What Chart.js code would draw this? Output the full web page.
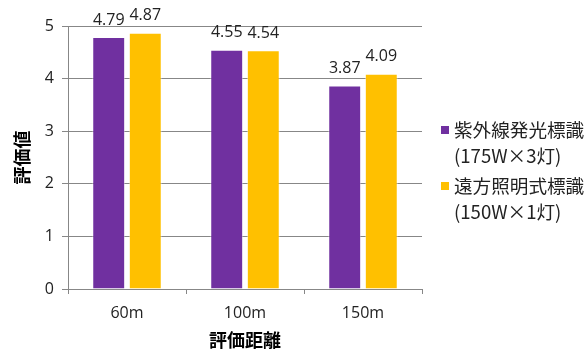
<!DOCTYPE html>
<html lang="ja">
<head>
<meta charset="utf-8">
<script src="https://cdn.jsdelivr.net/npm/chart.js@4.4.1/dist/chart.umd.min.js"></script>
<style>
  html, body { margin: 0; padding: 0; background: #fff; }
  #wrap { position: relative; width: 586px; height: 351px; }
  #legend {
    position: absolute; left: 441px; top: 116px;
    font-family: "Noto Sans CJK JP", sans-serif; font-size: 18.6px; color: #222;
  }
  .item { display: flex; margin-bottom: 4px; }
  .box { width: 8px; height: 8px; margin: 10px 5px 0 0; flex: none; }
  .txt { line-height: 26px; white-space: nowrap; }
</style>
</head>
<body>
<div id="wrap">
  <canvas id="chart" width="586" height="351"></canvas>
  <div id="legend"></div>
</div>
<script>
// 評価距離ごとの評価値
const distances = ['60m', '100m', '150m'];
const seriesNames = [['紫外線発光標識', '(175W×3灯)'], ['遠方照明式標識', '(150W×1灯)']];
const uvValues = [4.79, 4.55, 3.87];
const farValues = [4.87, 4.54, 4.09];
const seriesColors = ['#7030A0', '#FFC000'];
const yTicks = [0, 1, 2, 3, 4, 5];

const gridGray = '#878787';
const baseFont = '"Open Sans", "Noto Sans CJK JP", sans-serif';

// 棒の上に値を描く
const valueLabels = {
    id: 'valueLabels',
    afterDatasetsDraw(chart) {
        const ctx = chart.ctx;
        ctx.save();
        ctx.font = '16px ' + baseFont;
        ctx.fillStyle = '#222';
        ctx.textAlign = 'center';
        ctx.textBaseline = 'bottom';
        chart.data.datasets.forEach((ds, i) => {
            chart.getDatasetMeta(i).data.forEach((bar, j) => {
                ctx.fillText(ds.data[j].toFixed(2), bar.x, bar.y - 9);
            });
        });
        ctx.restore();
    }
};

const ctx = document.getElementById('chart').getContext('2d');
const chart = new Chart(ctx, {
    type: 'bar',
    data: {
        labels: distances,
        datasets: [
            { label: seriesNames[0].join(''), data: uvValues, backgroundColor: seriesColors[0] },
            { label: seriesNames[1].join(''), data: farValues, backgroundColor: seriesColors[1] }
        ]
    },
    options: {
        responsive: false,
        animation: false,
        layout: { padding: { top: 26, right: 164, left: 0, bottom: 0 } },
        datasets: {
            bar: {
                categoryPercentage: 0.62,
                barPercentage: 0.9,
                borderWidth: 1,
                borderColor: 'rgba(255,255,255,0.45)'
            }
        },
        plugins: {
            legend: { display: false },
            tooltip: { enabled: false }
        },
        scales: {
            x: {
                afterFit: s => { s.height = 62; },
                grid: { drawOnChartArea: false, drawTicks: true, tickLength: 5, color: gridGray },
                border: { display: true, color: gridGray },
                ticks: { color: '#222', font: { family: baseFont, size: 16 }, padding: 10 },
                title: {
                    display: true, text: '評価距離', color: '#000',
                    font: { family: '"Noto Sans CJK JP", sans-serif', size: 18, weight: 'bold' },
                    padding: { top: 0, bottom: 0 }
                }
            },
            y: {
                min: 0, max: 5,
                afterFit: s => { s.width = 68; },
                afterBuildTicks: s => { s.ticks = yTicks.map(v => ({ value: v })); },
                grid: { color: gridGray, tickLength: 6 },
                border: { display: true, color: gridGray },
                ticks: { color: '#222', font: { family: baseFont, size: 16 }, padding: 8 },
                title: {
                    display: true, text: '評価値', color: '#000',
                    font: { family: '"Noto Sans CJK JP", sans-serif', size: 18, weight: 'bold' },
                    padding: { top: 11, bottom: 0 }
                }
            }
        }
    },
    plugins: [valueLabels]
});

// 凡例
const legend = document.getElementById('legend');
seriesNames.forEach((lines, i) => {
    const item = document.createElement('div');
    item.className = 'item';
    const box = document.createElement('span');
    box.className = 'box';
    box.style.background = seriesColors[i];
    const txt = document.createElement('div');
    txt.className = 'txt';
    txt.innerHTML = lines.join('<br>');
    item.appendChild(box);
    item.appendChild(txt);
    legend.appendChild(item);
});
</script>
</body>
</html>
